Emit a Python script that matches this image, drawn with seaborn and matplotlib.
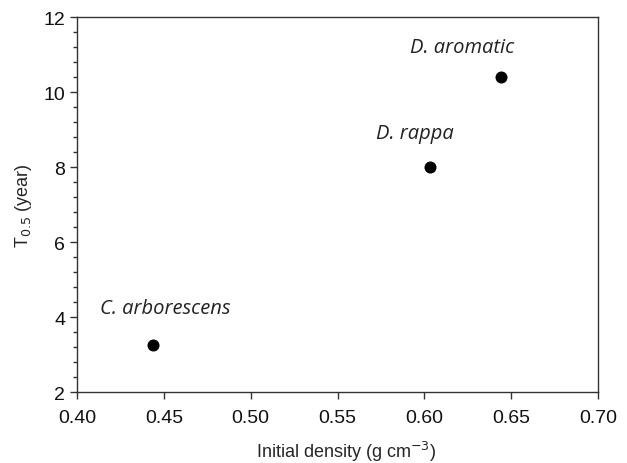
import pandas as pd
import numpy as np
import matplotlib
matplotlib.use('Agg')
import matplotlib.pyplot as plt
import seaborn as sns
from matplotlib.ticker import MultipleLocator, FormatStrFormatter

# values
species = ['C. arborescens', 'D. rappa', 'D. aromatic']
density = [0.444, 0.603, 0.644]
t_half = [3.25, 8.0, 10.41]

df = pd.DataFrame({'Species': species, 'Density': density, 'T05': t_half})

sns.set_style('ticks')
plt.rcParams['font.family'] = ['Liberation Sans', 'DejaVu Sans']

fig = plt.figure(figsize=(6.27, 4.64), dpi=100)
ax = fig.add_axes([0.1228, 0.153, 0.831, 0.808])

sns.scatterplot(x='Density', y='T05', data=df, ax=ax, color='black',
                s=75, edgecolor='black', linewidth=0, zorder=3)

# species labels above each point
label_offsets = {'C. arborescens': (0.0067, 0.99), 'D. rappa': (-0.0087, 0.92),
                 'D. aromatic': (-0.022, 0.79)}
for name, xv, yv in zip(species, density, t_half):
    dx, dy = label_offsets[name]
    ax.text(xv + dx, yv + dy, name, ha='center', va='center',
            fontsize=14.5, style='italic', family=['Open Sans', 'DejaVu Sans'],
            color='#222222')

ax.set_xlim(0.40, 0.70)
ax.set_ylim(2, 12)
ax.xaxis.set_major_locator(MultipleLocator(0.05))
ax.xaxis.set_major_formatter(FormatStrFormatter('%.2f'))
ax.yaxis.set_major_locator(MultipleLocator(2))
ax.yaxis.set_minor_locator(MultipleLocator(0.4))

ax.tick_params(axis='both', which='major', direction='out', length=5,
               width=1, labelsize=14, color='#333333', labelcolor='#111111')
ax.tick_params(axis='y', which='minor', direction='out', length=3,
               width=1, color='#333333')
ax.tick_params(axis='x', pad=7)

for side in ['top', 'right', 'left', 'bottom']:
    ax.spines[side].set_visible(True)
    ax.spines[side].set_color('#333333')
    ax.spines[side].set_linewidth(1)

ax.set_xlabel(r'Initial density (g cm$^{-3}$)', fontsize=13, labelpad=11)
ax.xaxis.set_label_coords(0.517, -0.125)
ax.set_ylabel(r'T$_{0.5}$ (year)', fontsize=13, labelpad=7)

fig.savefig('out.png', dpi=100)
